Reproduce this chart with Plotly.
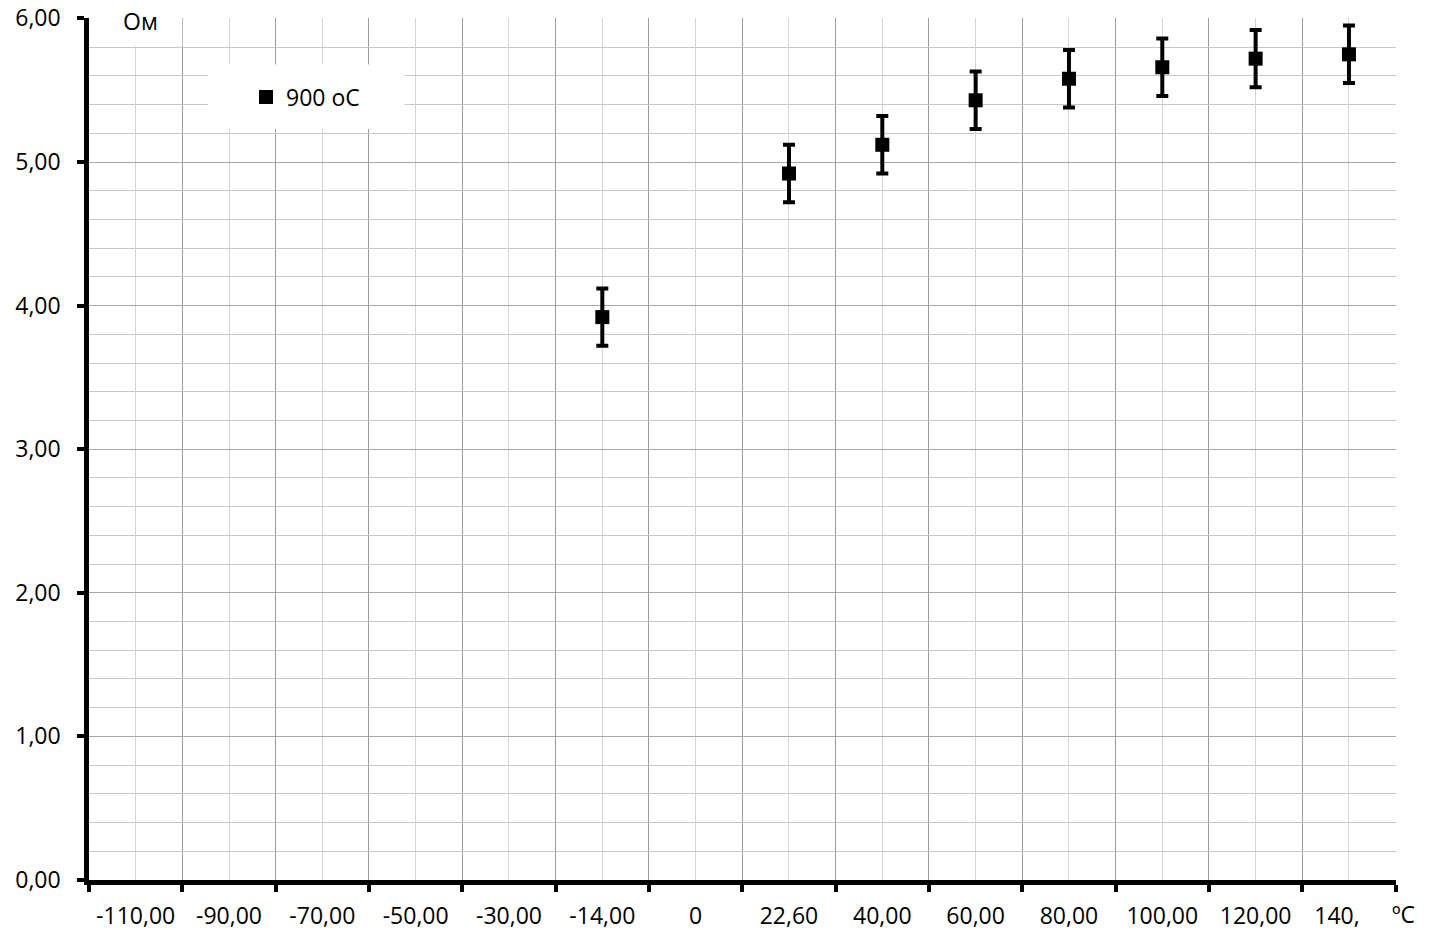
import plotly.graph_objects as go

# Temperature categories along the horizontal axis
categories = ["-110,00", "-90,00", "-70,00", "-50,00", "-30,00", "-14,00", "0",
              "22,60", "40,00", "60,00", "80,00", "100,00", "120,00", "140,00"]
tick_labels = ["-110,00", "-90,00", "-70,00", "-50,00", "-30,00", "-14,00", "0",
               "22,60", "40,00", "60,00", "80,00", "100,00", "120,00", "140,"]

# Measured resistance (Ohm) after annealing at 900 oC
measured_at = ["-14,00", "22,60", "40,00", "60,00", "80,00", "100,00", "120,00", "140,00"]
resistance = [3.92, 4.92, 5.12, 5.43, 5.58, 5.66, 5.72, 5.75]
resistance_err = [0.20, 0.20, 0.20, 0.20, 0.20, 0.20, 0.20, 0.20]

y_ticks = [0, 1, 2, 3, 4, 5, 6]

FONT = "Open Sans"
FS = 23

x_pos = [categories.index(c) for c in measured_at]
n = len(categories)
boundaries = [i - 0.5 for i in range(n + 1)]

# keep the trimmed last label centred where the full label would sit
shown_labels = tick_labels[:-1] + [tick_labels[-1] + "\u00a0" * 4]

fig = go.Figure()
fig.add_trace(go.Scatter(
    x=x_pos, y=resistance, mode="markers", name="900 oC",
    marker=dict(symbol="square", size=14, color="black"),
    error_y=dict(type="data", array=resistance_err, visible=True,
                 thickness=4, width=6, color="black"),
))

fig.update_layout(
    width=1429, height=930,
    margin=dict(l=89, r=33, t=18, b=50),
    paper_bgcolor="white", plot_bgcolor="white",
    separators=", ",
    font=dict(family=FONT, size=FS, color="black"),
    showlegend=True,
    legend=dict(x=(246 - 89) / 1307, y=(880 - 97) / 862, xanchor="left", yanchor="middle",
                bgcolor="rgba(0,0,0,0)", borderwidth=0, itemwidth=30,
                font=dict(family=FONT, size=FS, color="black")),
    xaxis=dict(
        range=[-0.5, n - 0.5 + 0.004],
        tickmode="array", tickvals=list(range(n)), ticktext=shown_labels,
        ticks="", showgrid=True, gridcolor="#d4d4d4", gridwidth=1,
        zeroline=False, showline=True, linecolor="black", linewidth=4.5,
        ticklabelstandoff=12, automargin=False,
        minor=dict(tickmode="array", tickvals=boundaries, ticks="outside",
                   ticklen=7, tickwidth=4, tickcolor="black",
                   showgrid=True, gridcolor="#9c9c9c", gridwidth=1),
    ),
    yaxis=dict(
        range=[0, 6.003],
        tickmode="array", tickvals=y_ticks, tickformat=".2f",
        ticks="outside", ticklen=7, tickwidth=4, tickcolor="black",
        showgrid=True, gridcolor="#a8a8a8", gridwidth=1,
        zeroline=False, showline=True, linecolor="black", linewidth=4.5,
        ticklabelstandoff=12, automargin=False,
        minor=dict(dtick=0.2, showgrid=True, gridcolor="#c8c8c8", gridwidth=1, ticks=""),
    ),
    shapes=[
        # white panel behind the axis title
        dict(type="rect", xref="x", yref="y", x0=-0.5, x1=0.5, y0=5.81, y1=6.01,
             fillcolor="white", line=dict(width=0), layer="between"),
        # white panel behind the legend
        dict(type="rect", xref="x", yref="y", x0=0.78, x1=2.88, y0=5.23, y1=5.68,
             fillcolor="white", line=dict(width=0), layer="between"),
    ],
    annotations=[
        dict(text="Ом", xref="paper", yref="paper", x=(140 - 89) / 1307, y=(880 - 21) / 862,
             xanchor="center", yanchor="middle", showarrow=False,
             font=dict(family=FONT, size=FS, color="black")),
        dict(text="\u00baC", xref="paper", yref="paper", x=(1404 - 89) / 1307, y=-(914 - 880) / 862,
             xanchor="center", yanchor="middle", showarrow=False,
             font=dict(family=FONT, size=FS, color="black")),
    ],
)

fig.write_html("out.html")
